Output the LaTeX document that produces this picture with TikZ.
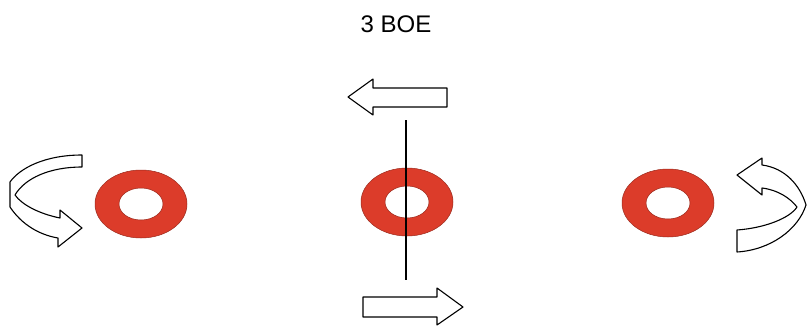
\documentclass[tikz,border=0pt]{standalone}
\usepackage{fontspec}
\setmainfont{Liberation Sans}
\usetikzlibrary{positioning}
\definecolor{ringred}{RGB}{220,60,42}

\begin{document}
\begin{tikzpicture}[
	x=1pt, y=-1pt,
	ring/.style={fill=ringred, draw=ringred!70!black, line width=0.5pt, even odd rule},
	blockarr/.style={draw=black, fill=white, line width=1.1pt, line join=round},
	axis/.style={draw=black, line width=1.4pt}
]
	\useasboundingbox (0,0) rectangle (808,327);
	\node[font=\fontsize{24}{28}\selectfont, inner sep=0pt] (title) at (396,24) {3 BOE};
	% rings
	\coordinate (rL) at (141,204);
	\coordinate (rM) at (407,202);
	\coordinate (rR) at (668,203);
	\foreach \c in {rL,rM,rR}
		\path[ring] (\c) ellipse [x radius=46, y radius=34] (\c) ellipse [x radius=22, y radius=16];
	% axis through the middle ring
	\coordinate (axT) at (406,120);
	\coordinate (axB) at (406,280);
	\draw[axis] (axT) -- (axB);
	% straight arrows
	\path[blockarr] (447,88) -- (373,88) -- (373,79) -- (348,97) -- (373,115) -- (373,107) -- (447,107) -- cycle;
	\path[blockarr] (363,297) -- (437,297) -- (437,288) -- (463,307) -- (437,325) -- (437,317) -- (363,317) -- cycle;
	% curved arrows
	\path[blockarr] (82,155) .. controls (45,155) and (20,168) .. (10,182) -- (10,207)
		.. controls (22,225) and (40,235) .. (58,238) -- (58,247) -- (82,228) -- (60,210) -- (60,218)
		.. controls (40,214) and (22,205) .. (15,195) .. controls (25,178) and (50,167) .. (82,167) -- cycle;
	\path[blockarr] (737,230) .. controls (765,228) and (790,218) .. (797,207)
		.. controls (790,198) and (778,190) .. (762,188) -- (762,195) -- (737,175) -- (762,158) -- (762,165)
		.. controls (785,168) and (800,185) .. (806,205) .. controls (798,230) and (770,250) .. (737,252) -- cycle;
\end{tikzpicture}
\end{document}
